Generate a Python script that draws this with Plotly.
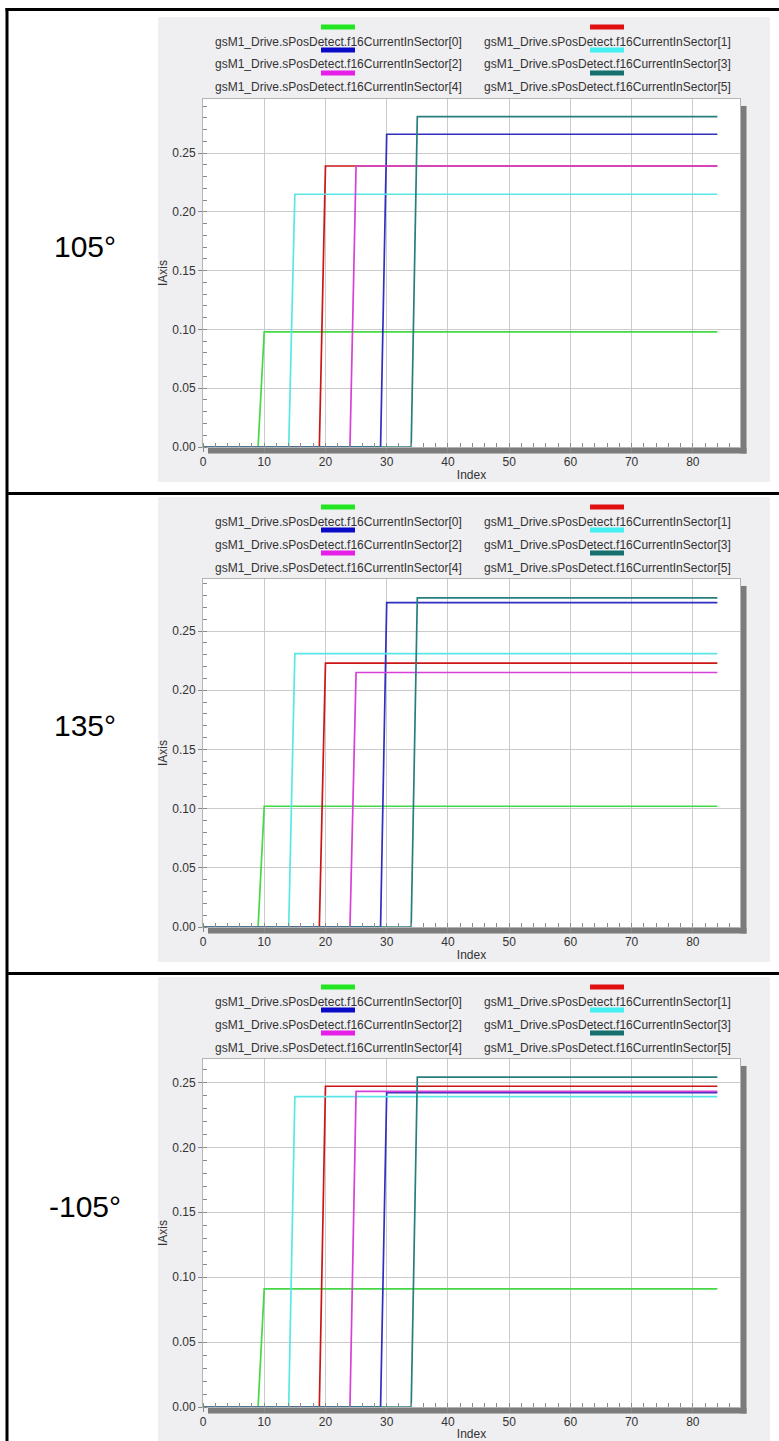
import plotly.graph_objects as go

W, H = 779, 1441

# ---------------- data ----------------
sector_names = [
    "gsM1_Drive.sPosDetect.f16CurrentInSector[0]",
    "gsM1_Drive.sPosDetect.f16CurrentInSector[1]",
    "gsM1_Drive.sPosDetect.f16CurrentInSector[2]",
    "gsM1_Drive.sPosDetect.f16CurrentInSector[3]",
    "gsM1_Drive.sPosDetect.f16CurrentInSector[4]",
    "gsM1_Drive.sPosDetect.f16CurrentInSector[5]",
]
angle_labels = ["105°", "135°", "-105°"]
rise_index = [10, 20, 30, 15, 25, 35]      # first index at the new level
last_index = 84
levels_105 = [0.098, 0.239, 0.266, 0.215, 0.239, 0.281]
levels_135 = [0.102, 0.223, 0.274, 0.231, 0.215, 0.278]
levels_m105 = [0.091, 0.247, 0.242, 0.239, 0.243, 0.254]
row_levels = [levels_105, levels_135, levels_m105]
y_tops = [0.296, 0.294, 0.268]
x_max = 87.7

# ---------------- styles ----------------
line_colors = ["#46d846", "#cc1616", "#3030bf", "#5be6e6", "#d641d6", "#287d7d"]
swatch_colors = ["#22e622", "#e01010", "#0a0ac8", "#44f0f0", "#e620e6", "#167070"]
FONT = "Liberation Sans, Arial, sans-serif"
ROW_STEP = 480


def pxx(p):
    return p / W


def pxy(p):
    return 1 - p / H


fig = go.Figure()
shapes = []
annotations = []

for r, levels in enumerate(row_levels):
    o = r * ROW_STEP
    xa = "x" if r == 0 else f"x{r+1}"
    ya = "y" if r == 0 else f"y{r+1}"
    for i in range(6):
        k = rise_index[i]
        fig.add_trace(go.Scatter(
            x=[0, k - 1, k, last_index],
            y=[0, 0, levels[i], levels[i]],
            mode="lines",
            line=dict(color=line_colors[i], width=1.7),
            name=sector_names[i],
            showlegend=False,
            xaxis=xa, yaxis=ya,
            hoverinfo="skip",
        ))

    plot_top, plot_bot = 99 + o, 447 + o
    plot_l, plot_r = 203, 740
    axis_common = dict(
        showgrid=True, gridcolor="#cbcbcb", gridwidth=1,
        showline=True, linecolor="#b4b4b4", linewidth=1, mirror=True,
        zeroline=False, ticks="outside", ticklen=4, tickcolor="#8a8a8a",
        tickfont=dict(family=FONT, size=12, color="#333333"),
        automargin=False, fixedrange=True,
    )
    xkey = "xaxis" if r == 0 else f"xaxis{r+1}"
    ykey = "yaxis" if r == 0 else f"yaxis{r+1}"
    fig.update_layout(**{
        xkey: dict(
            axis_common,
            domain=[pxx(plot_l), pxx(plot_r)],
            anchor=ya, range=[0, x_max], tick0=0, dtick=10,
            minor=dict(ticks="inside", dtick=2, ticklen=4, tickcolor="#8a8a8a", showgrid=False),
            title=dict(text="Index", font=dict(family=FONT, size=12, color="#333333"), standoff=2),
        ),
        ykey: dict(
            axis_common,
            domain=[pxy(plot_bot), pxy(plot_top)],
            anchor=xa, range=[0, y_tops[r]], tick0=0, dtick=0.05, tickformat=".2f",
            minor=dict(ticks="inside", dtick=0.01, ticklen=4, tickcolor="#8a8a8a", showgrid=False),
            title=dict(text="IAxis", font=dict(family=FONT, size=12, color="#333333"), standoff=2),
        ),
    })

    # grey panel
    shapes.append(dict(type="rect", xref="paper", yref="paper", layer="below",
                       x0=pxx(158), x1=pxx(770), y0=pxy(482 + o), y1=pxy(17 + o),
                       fillcolor="#efeef1", line=dict(width=0)))
    # white plot area
    shapes.append(dict(type="rect", xref="paper", yref="paper", layer="below",
                       x0=pxx(plot_l), x1=pxx(plot_r), y0=pxy(plot_bot), y1=pxy(plot_top),
                       fillcolor="#ffffff", line=dict(width=0)))
    # drop shadow (right and bottom)
    shapes.append(dict(type="rect", xref="paper", yref="paper", layer="below",
                       x0=pxx(plot_r + 0.5), x1=pxx(plot_r + 6.5), y0=pxy(plot_bot + 6.5), y1=pxy(plot_top + 7),
                       fillcolor="#7c7c7c", line=dict(width=0)))
    shapes.append(dict(type="rect", xref="paper", yref="paper", layer="below",
                       x0=pxx(plot_l + 5), x1=pxx(plot_r + 6.5), y0=pxy(plot_bot + 6.5), y1=pxy(plot_bot + 0.5),
                       fillcolor="#7c7c7c", line=dict(width=0)))

    # custom legend: swatch above each name, two columns
    col_cx = [338, 607]
    for i in range(6):
        c = i % 2
        k = i // 2
        cy_bar = 27 + 23 * k + o
        cy_txt = 41.5 + 23 * k + o
        shapes.append(dict(type="rect", xref="paper", yref="paper", layer="above",
                           x0=pxx(col_cx[c] - 17), x1=pxx(col_cx[c] + 17),
                           y0=pxy(cy_bar + 2.5), y1=pxy(cy_bar - 2.5),
                           fillcolor=swatch_colors[i], line=dict(width=0)))
        annotations.append(dict(xref="paper", yref="paper", x=pxx(col_cx[c]), y=pxy(cy_txt),
                                text=sector_names[i], showarrow=False,
                                xanchor="center", yanchor="middle",
                                font=dict(family=FONT, size=12, color="#333333")))

    # angle label in left column
    annotations.append(dict(xref="paper", yref="paper", x=pxx(85), y=pxy(246 + o),
                            text=angle_labels[r], showarrow=False,
                            xanchor="center", yanchor="middle",
                            font=dict(family=FONT, size=30, color="#000000")))

# table borders
BLACK = dict(color="#000000", width=3)
shapes.append(dict(type="line", xref="paper", yref="paper", x0=pxx(5.5), x1=1.0,
                   y0=pxy(9.5), y1=pxy(9.5), line=BLACK))
shapes.append(dict(type="line", xref="paper", yref="paper", x0=pxx(7), x1=pxx(7),
                   y0=pxy(8), y1=0, line=BLACK))
for yy in [493.5, 973.5]:
    shapes.append(dict(type="line", xref="paper", yref="paper", x0=pxx(7), x1=1.0,
                       y0=pxy(yy), y1=pxy(yy), line=BLACK))

fig.update_layout(
    width=W, height=H,
    margin=dict(l=0, r=0, t=0, b=0),
    paper_bgcolor="#ffffff", plot_bgcolor="#ffffff",
    showlegend=False,
    shapes=shapes, annotations=annotations,
    font=dict(family=FONT, size=12, color="#333333"),
)

# remove the browser's default 8px page margin so the figure sits at the window origin
fig.write_html(
    "out.html",
    config={"displayModeBar": False, "staticPlot": True},
    post_script="document.body.style.margin='0';document.body.style.overflow='hidden';",
)
